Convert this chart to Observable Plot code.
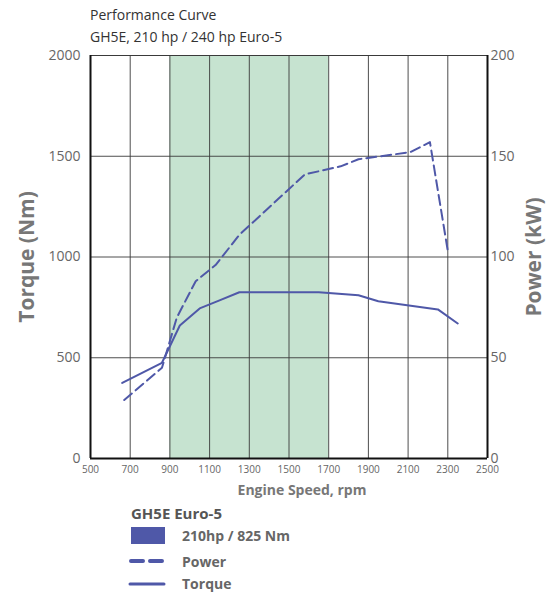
<!DOCTYPE html>
<html>
<head>
<meta charset="utf-8">
<script src="https://cdn.jsdelivr.net/npm/d3@7"></script>
<script src="https://cdn.jsdelivr.net/npm/@observablehq/plot@0.6"></script>
<style>
  body { margin: 0; background: white; font-family: "Open Sans", sans-serif; }
  #wrap { width: 552px; height: 592px; overflow: hidden; }
  #title { height: 46px; box-sizing: border-box; padding: 4px 0 0 90px; font-size: 14px; line-height: 22px; color: #333; }
  #legend { position: relative; height: 87px; color: #666; font-weight: bold; }
  #legend div { position: absolute; white-space: nowrap; }
  #legend svg { display: block; }
</style>
</head>
<body>
<div id="wrap">
  <div id="title">Performance Curve<br>GH5E, 210 hp / 240 hp Euro-5</div>
  <div id="chart"></div>
  <div id="legend"></div>
</div>
<script>
const rpmTicks = [500, 700, 900, 1100, 1300, 1500, 1700, 1900, 2100, 2300, 2500];
const torqueTicks = [0, 500, 1000, 1500, 2000];
const powerTicks = [0, 50, 100, 150, 200];
const bandRpm = [900, 1700];

const torqueRpm = [660, 860, 950, 1050, 1150, 1250, 1650, 1850, 1950, 2250, 2350];
const torqueNm  = [375, 475, 660, 745, 785, 825, 825, 810, 780, 740, 670];

const powerRpm = [670, 860, 935, 1030, 1130, 1250, 1580, 1760, 1850, 2110, 2210, 2300];
const powerKw  = [29, 45, 70, 88, 96, 111, 141, 145, 148.5, 152, 157, 103];

const lineColor = "#4f58a8";
const gridColor = "#3a3a3a";

const torqueData = torqueRpm.map((r, i) => ({rpm: r, v: torqueNm[i]}));
const powerData = powerRpm.map((r, i) => ({rpm: r, v: powerKw[i] * 10}));
const innerX = rpmTicks.slice(1, -1);
const innerY = torqueTicks.slice(1, -1);

const chart = Plot.plot({
  width: 552,
  height: 459,
  marginTop: 9,
  marginBottom: 47,
  marginLeft: 90,
  marginRight: 65,
  style: {fontFamily: "Open Sans", background: "white"},
  x: {domain: [500, 2500]},
  y: {domain: [0, 2000]},
  marks: [
    Plot.rect([bandRpm], {x1: d => d[0], x2: d => d[1], y1: 0, y2: 2000, fill: "#c6e3d0"}),
    Plot.ruleX(innerX, {stroke: gridColor, strokeWidth: 0.9}),
    Plot.ruleY(innerY, {stroke: gridColor, strokeWidth: 0.9}),
    Plot.ruleY([2000], {stroke: gridColor, strokeWidth: 1}),
    Plot.ruleX([500, 2500], {stroke: "#111", strokeWidth: 2}),
    Plot.ruleY([0], {stroke: "#111", strokeWidth: 2}),
    Plot.line(torqueData, {x: "rpm", y: "v", stroke: lineColor, strokeWidth: 2}),
    Plot.line(powerData, {x: "rpm", y: "v", stroke: lineColor, strokeWidth: 2, strokeDasharray: "10,5"}),
    Plot.axisY({anchor: "left", ticks: torqueTicks, tickSize: 0, tickPadding: 10, fontSize: 14, color: "#666", tickFormat: d => String(d), label: null}),
    Plot.axisY({anchor: "right", ticks: torqueTicks, tickSize: 0, tickPadding: 3, fontSize: 14, color: "#666", tickFormat: d => String(d / 10), label: null}),
    Plot.axisX({ticks: rpmTicks, tickSize: 0, tickPadding: 7, fontSize: 10, color: "#666", tickFormat: d => String(d), label: null}),
    Plot.text(["Torque (Nm)"], {frameAnchor: "left", textAnchor: "middle", rotate: -90, dx: -63, fontSize: 21, fontWeight: "bold", fill: "#777"}),
    Plot.text(["Power (kW)"], {frameAnchor: "right", textAnchor: "middle", rotate: -90, dx: 47, fontSize: 21, fontWeight: "bold", fill: "#777"}),
    Plot.text(["Engine Speed, rpm"], {frameAnchor: "bottom", textAnchor: "middle", dx: 13, dy: 36, fontSize: 14, fontWeight: "bold", fill: "#777"})
  ]
});
document.getElementById("chart").appendChild(chart);

const legendTitle = "GH5E Euro-5";
const legendItems = ["210hp / 825 Nm", "Power", "Torque"];
const lg = document.getElementById("legend");
lg.innerHTML = `
  <div style="left:131px; top:0px; font-size:15px; line-height:16px; color:#555;">${legendTitle}</div>
  <div style="left:131px; top:22px; width:34px; height:17px; background:${lineColor};"></div>
  <div style="left:182px; top:23px; font-size:14px; line-height:16px;">${legendItems[0]}</div>
  <div style="left:128px; top:52px;"><svg width="40" height="8"><line x1="3" y1="4" x2="35" y2="4" stroke="${lineColor}" stroke-width="4" stroke-dasharray="12,7" stroke-linecap="round"/></svg></div>
  <div style="left:182px; top:49px; font-size:14px; line-height:16px;">${legendItems[1]}</div>
  <div style="left:128px; top:75px;"><svg width="40" height="8"><line x1="2" y1="4" x2="36" y2="4" stroke="${lineColor}" stroke-width="3" stroke-linecap="round"/></svg></div>
  <div style="left:182px; top:71px; font-size:14px; line-height:16px;">${legendItems[2]}</div>
`;
</script>
</body>
</html>
